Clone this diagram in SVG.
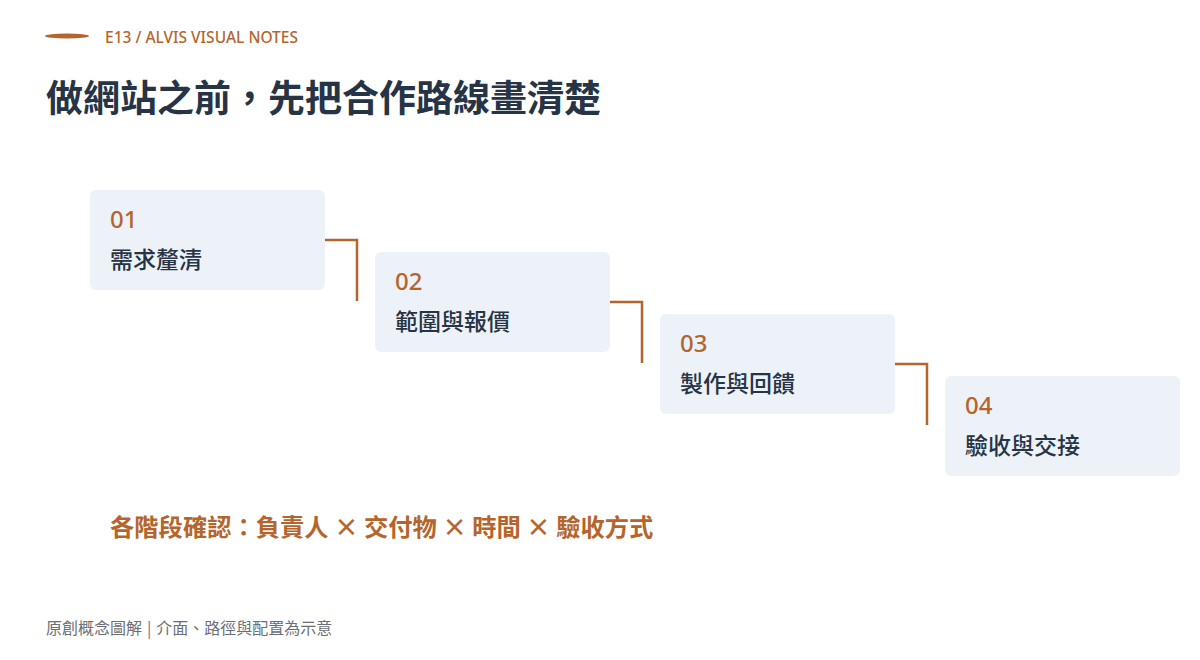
<svg xmlns="http://www.w3.org/2000/svg" width="1200" height="660" viewBox="0 0 1200 660">
<style>
.cjk{font-family:"Noto Sans CJK TC","Noto Sans CJK SC","Noto Sans",sans-serif}
.box{fill:#edf2f8}
.num{font-family:"Noto Sans","Noto Sans CJK TC",sans-serif;font-size:24px;font-weight:500;fill:#b5652c}
.lbl{font-size:23px;font-weight:500;fill:#263445}
.conn{fill:none;stroke:#b5652c;stroke-width:2.5}
</style>
<rect width="1200" height="660" fill="#ffffff"/>
<ellipse cx="67" cy="36" rx="22" ry="2.5" fill="#b5652c"/>
<text x="105" y="43" font-family="Noto Sans,sans-serif" font-size="15.5" font-weight="500" fill="#b5652c">E13 / ALVIS VISUAL NOTES</text>
<text x="46" y="112" class="cjk" font-size="37" font-weight="700" fill="#263445">做網站之前，先把合作路線畫清楚</text>
<g id="connectors">
<path class="conn" d="M325 240 H357 V301"/>
<path class="conn" d="M610 302 H642 V363"/>
<path class="conn" d="M895 364 H927 V425"/>
</g>
<g id="step1">
<rect class="box" x="90" y="190" width="235" height="100" rx="6"/>
<text class="num" x="110" y="228">01</text>
<text class="cjk lbl" x="110" y="268">需求釐清</text>
</g>
<g id="step2">
<rect class="box" x="375" y="252" width="235" height="100" rx="6"/>
<text class="num" x="395" y="290">02</text>
<text class="cjk lbl" x="395" y="330">範圍與報價</text>
</g>
<g id="step3">
<rect class="box" x="660" y="314" width="235" height="100" rx="6"/>
<text class="num" x="680" y="352">03</text>
<text class="cjk lbl" x="680" y="392">製作與回饋</text>
</g>
<g id="step4">
<rect class="box" x="945" y="376" width="235" height="100" rx="6"/>
<text class="num" x="965" y="414">04</text>
<text class="cjk lbl" x="965" y="454">驗收與交接</text>
</g>
<text x="110" y="536" class="cjk" font-size="24.3" font-weight="700" fill="#b5652c">各階段確認：負責人 × 交付物 × 時間 × 驗收方式</text>
<text x="46" y="634" class="cjk" font-size="16" fill="#6b7078">原創概念圖解<tspan dx="5">|</tspan><tspan dx="5">介面、路徑與配置為示意</tspan></text>
</svg>
